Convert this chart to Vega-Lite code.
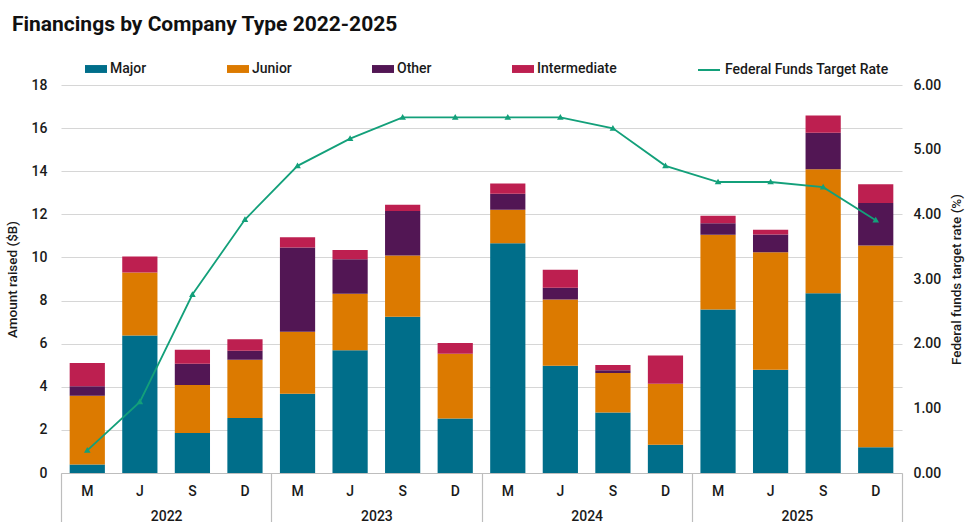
{
  "$schema": "https://vega.github.io/schema/vega-lite/v6.json",
  "width": 841,
  "height": 388,
  "autosize": "none",
  "padding": {"left": 61, "top": 85, "right": 66, "bottom": 49},
  "background": "white",
  "title": {
    "text": "Financings by Company Type 2022-2025",
    "anchor": "start",
    "frame": "group",
    "dx": -49,
    "offset": 23,
    "font": "Roboto",
    "fontSize": 21,
    "fontWeight": "bold",
    "color": "#111111"
  },
  "config": {
    "view": {"stroke": null},
    "font": "Roboto",
    "axis": {"labelFont": "Roboto", "titleFont": "Roboto", "labelColor": "#1a1a1a", "titleColor": "#1a1a1a"},
    "legend": {"labelFont": "Roboto", "labelFontSize": 14, "labelFontWeight": 500, "labelColor": "#1a1a1a", "labelLimit": 400}
  },
  "data": {
    "values": [
      {"period": "2022 M", "year": "2022", "Major": 0.39, "Junior": 3.19, "Other": 0.44, "Intermediate": 1.08, "rate": 0.35},
      {"period": "2022 J", "year": "2022", "Major": 6.38, "Junior": 2.92, "Other": 0, "Intermediate": 0.74, "rate": 1.10},
      {"period": "2022 S", "year": "2022", "Major": 1.85, "Junior": 2.23, "Other": 0.99, "Intermediate": 0.65, "rate": 2.76},
      {"period": "2022 D", "year": "2022", "Major": 2.55, "Junior": 2.70, "Other": 0.42, "Intermediate": 0.54, "rate": 3.92},
      {"period": "2023 M", "year": "2023", "Major": 3.68, "Junior": 2.87, "Other": 3.91, "Intermediate": 0.48, "rate": 4.75},
      {"period": "2023 J", "year": "2023", "Major": 5.70, "Junior": 2.61, "Other": 1.61, "Intermediate": 0.42, "rate": 5.17},
      {"period": "2023 S", "year": "2023", "Major": 7.25, "Junior": 2.84, "Other": 2.07, "Intermediate": 0.29, "rate": 5.50},
      {"period": "2023 D", "year": "2023", "Major": 2.53, "Junior": 3.00, "Other": 0, "Intermediate": 0.50, "rate": 5.50},
      {"period": "2024 M", "year": "2024", "Major": 10.66, "Junior": 1.55, "Other": 0.74, "Intermediate": 0.48, "rate": 5.50},
      {"period": "2024 J", "year": "2024", "Major": 4.98, "Junior": 3.07, "Other": 0.54, "Intermediate": 0.84, "rate": 5.50},
      {"period": "2024 S", "year": "2024", "Major": 2.81, "Junior": 1.83, "Other": 0.13, "Intermediate": 0.24, "rate": 5.33},
      {"period": "2024 D", "year": "2024", "Major": 1.31, "Junior": 2.83, "Other": 0, "Intermediate": 1.31, "rate": 4.75},
      {"period": "2025 M", "year": "2025", "Major": 7.59, "Junior": 3.46, "Other": 0.54, "Intermediate": 0.34, "rate": 4.50},
      {"period": "2025 J", "year": "2025", "Major": 4.79, "Junior": 5.45, "Other": 0.82, "Intermediate": 0.22, "rate": 4.50},
      {"period": "2025 S", "year": "2025", "Major": 8.34, "Junior": 5.75, "Other": 1.70, "Intermediate": 0.79, "rate": 4.42},
      {"period": "2025 D", "year": "2025", "Major": 1.19, "Junior": 9.36, "Other": 1.97, "Intermediate": 0.88, "rate": 3.91}
    ]
  },
  "layer": [
    {
      "layer": [
        {
          "transform": [{"fold": ["Major", "Junior", "Other", "Intermediate"], "as": ["series", "value"]}],
          "mark": {"type": "bar", "strokeWidth": 0},
          "encoding": {
            "x": {
              "field": "period", "type": "nominal", "sort": null,
              "scale": {"paddingInner": 0.33, "paddingOuter": 0.165},
              "axis": {
                "title": null, "labelAngle": 0, "labelExpr": "substring(datum.label, 5)",
                "ticks": false, "tickSize": 0, "labelPadding": 11, "labelFontSize": 14, "labelFontWeight": 500,
                "domain": true, "domainColor": "#bdbdbd", "domainWidth": 1.2, "grid": false
              }
            },
            "y": {
              "field": "value", "type": "quantitative", "stack": "zero",
              "scale": {"domain": [0, 18], "nice": false},
              "axis": {
                "title": "Amount raised ($B)", "titleFontSize": 13.5, "titleFontWeight": 500, "titlePadding": 12,
                "values": [0, 2, 4, 6, 8, 10, 12, 14, 16, 18],
                "labelFontSize": 14, "labelFontWeight": 500, "labelPadding": 14,
                "ticks": false, "domain": false, "grid": true, "gridColor": "#d6d6d6", "gridWidth": 1.2
              }
            },
            "fill": {
              "field": "series", "type": "nominal",
              "sort": ["Major", "Junior", "Other", "Intermediate"],
              "scale": {"domain": ["Major", "Junior", "Other", "Intermediate"], "range": ["#006e8a", "#dc7a00", "#521654", "#bd1f50"]},
              "legend": {
                "title": null, "orient": "none", "direction": "horizontal", "columns": 4,
                "legendX": 24, "legendY": -27, "padding": 0,
                "symbolType": "M-1,-0.36H1V0.36H-1Z", "symbolSize": 484, "symbolStrokeWidth": 0,
                "labelOffset": 3, "columnPadding": 80
              }
            },
            "order": {"field": "period", "type": "nominal"}
          }
        },
        {
          "mark": {"type": "line", "strokeWidth": 1.8, "point": {"shape": "triangle-up", "size": 10, "filled": true, "color": "#13a07a"}},
          "encoding": {
            "x": {"field": "period", "type": "nominal", "sort": null},
            "y": {
              "field": "rate", "type": "quantitative",
              "scale": {"domain": [0, 6], "nice": false},
              "axis": {
                "orient": "right", "title": "Federal funds target rate (%)", "titleAngle": 270,
                "titleFontSize": 13.5, "titleFontWeight": 500, "titlePadding": 23,
                "values": [0, 1, 2, 3, 4, 5, 6], "format": ".2f",
                "labelFontSize": 14, "labelFontWeight": 500, "labelPadding": 11,
                "ticks": false, "domain": false, "grid": false
              }
            },
            "stroke": {
              "datum": "Federal Funds Target Rate", "type": "nominal",
              "scale": {"range": ["#13a07a"]},
              "legend": {
                "title": null, "orient": "none", "legendX": 636, "legendY": -27, "padding": 0,
                "symbolType": "stroke", "symbolSize": 484, "symbolStrokeWidth": 2, "labelOffset": 4
              }
            }
          }
        }
      ],
      "resolve": {"scale": {"y": "independent"}}
    },
    {
      "mark": {"type": "rule", "opacity": 0},
      "encoding": {
        "x": {
          "field": "year", "type": "nominal",
          "scale": {"paddingInner": 0, "paddingOuter": 0},
          "axis": {
            "title": null, "labelAngle": 0, "orient": "bottom",
            "tickBand": "extent", "ticks": true, "tickSize": 49, "tickColor": "#bdbdbd", "tickWidth": 1.2,
            "labelPadding": -13, "labelFontSize": 14, "labelFontWeight": 500,
            "domain": false, "grid": false
          }
        }
      }
    }
  ],
  "resolve": {"scale": {"x": "independent"}}
}
